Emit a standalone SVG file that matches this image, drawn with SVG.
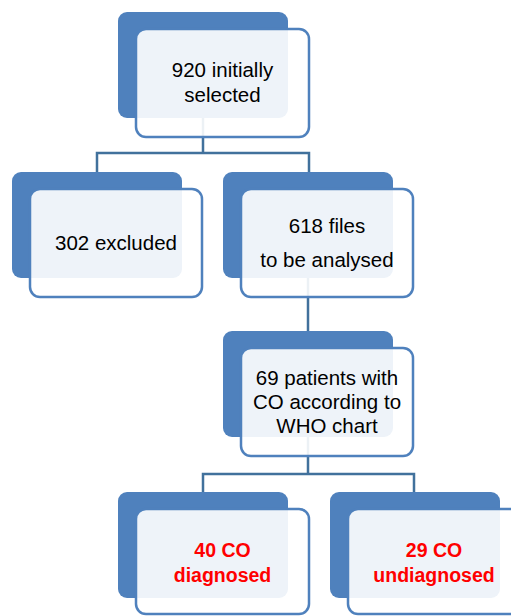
<svg xmlns="http://www.w3.org/2000/svg" width="511" height="616" viewBox="0 0 511 616">
<style>
.back{fill:#4F81BD;}
.front{fill:#FFFFFF;fill-opacity:0.9;stroke:#4F81BD;stroke-width:2.5;}
.conn{fill:none;stroke:#41719C;stroke-width:2.5;}
.t{font-family:"Liberation Sans",Arial,sans-serif;font-size:20.5px;fill:#000;text-anchor:middle;}
.r{font-family:"Liberation Sans",Arial,sans-serif;font-size:19.5px;font-weight:bold;fill:#FF0000;text-anchor:middle;}
</style>
<rect width="511" height="616" fill="#FFFFFF"/>
<g id="backs">
<rect class="back" x="118" y="12" width="170" height="106" rx="9"/>
<rect class="back" x="12" y="172" width="170" height="106" rx="9"/>
<rect class="back" x="223" y="172" width="170" height="106" rx="9"/>
<rect class="back" x="223" y="331" width="170" height="106" rx="9"/>
<rect class="back" x="118" y="492" width="170" height="106" rx="9"/>
<rect class="back" x="330" y="492" width="170" height="106" rx="9"/>
</g>
<g id="connectors">
<path class="conn" d="M203,118 V153 M97,172 V153 H309 V172"/>
<path class="conn" d="M308,278 V331"/>
<path class="conn" d="M308,437 V474 M203,492 V474 H414 V492"/>
</g>
<g id="n1">
<rect class="front" x="136" y="29" width="173" height="108" rx="10"/>
<text class="t" x="222.5" y="77">920 initially</text>
<text class="t" x="222.5" y="102">selected</text>
</g>
<g id="n2">
<rect class="front" x="30" y="189" width="172" height="108" rx="10"/>
<text class="t" x="116" y="250">302 excluded</text>
</g>
<g id="n3">
<rect class="front" x="241" y="189" width="172" height="108" rx="10"/>
<text class="t" x="327" y="233">618 files</text>
<text class="t" x="327" y="267">to be analysed</text>
</g>
<g id="n4">
<rect class="front" x="241" y="348" width="172" height="108" rx="10"/>
<text class="t" x="327" y="385">69 patients with</text>
<text class="t" x="327" y="409">CO according to</text>
<text class="t" x="327" y="433">WHO chart</text>
</g>
<g id="n5">
<rect class="front" x="136" y="509" width="173" height="105" rx="10"/>
<text class="r" x="222.5" y="557">40 CO</text>
<text class="r" x="222.5" y="582">diagnosed</text>
</g>
<g id="n6">
<rect class="front" x="348" y="509" width="173" height="105" rx="10"/>
<text class="r" x="434" y="557">29 CO</text>
<text class="r" x="434" y="582">undiagnosed</text>
</g>
</svg>
